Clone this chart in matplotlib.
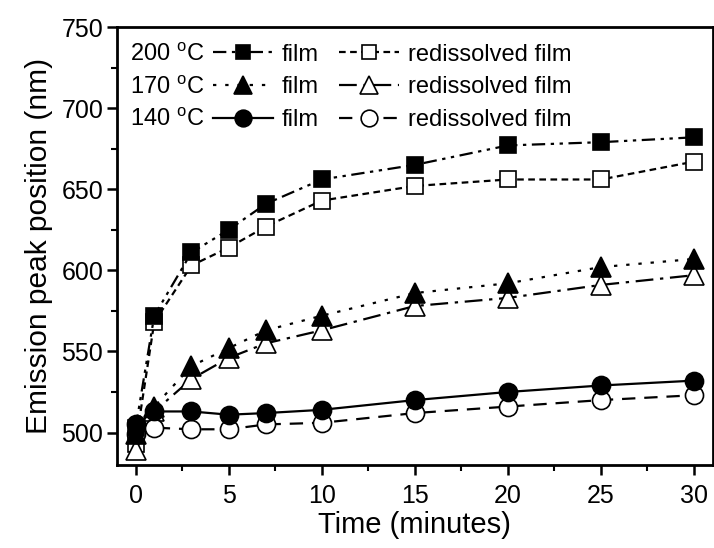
import matplotlib
matplotlib.use("Agg")
import matplotlib.pyplot as plt
from matplotlib.ticker import MultipleLocator
from matplotlib.lines import Line2D

plt.rcParams['font.family'] = ['Liberation Sans', 'DejaVu Sans']
plt.rcParams['mathtext.fontset'] = 'custom'
plt.rcParams['mathtext.rm'] = 'Liberation Sans'

time = [0, 1, 3, 5, 7, 10, 15, 20, 25, 30]
film_200 = [503, 572, 611, 625, 641, 656, 665, 677, 679, 682]
redis_200 = [493, 568, 603, 614, 627, 643, 652, 656, 656, 667]
film_170 = [499, 516, 541, 552, 563, 572, 586, 592, 602, 607]
redis_170 = [489, 513, 533, 546, 555, 563, 578, 583, 591, 597]
film_140 = [505, 513, 513, 511, 512, 514, 520, 525, 529, 532]
redis_140 = [499, 503, 502, 502, 505, 506, 512, 516, 520, 523]

temps = ['200', '170', '140']

fig = plt.figure(figsize=(7.14, 5.48), dpi=100)
ax = fig.add_axes([0.1639, 0.1515, 0.998 - 0.1639, 0.9507 - 0.1515])

lw = 1.6
series = [
    (film_200, 's', 'k', (0, (6, 2.5, 1.5, 2.5, 1.5, 2.5))),
    (redis_200, 's', 'w', (0, (3, 2))),
    (film_170, '^', 'k', (0, (1.5, 4))),
    (redis_170, '^', 'w', (0, (8, 3, 1.5, 3))),
    (film_140, 'o', 'k', '-'),
    (redis_140, 'o', 'w', (0, (6, 4))),
]
handles = []
for vals, mk, fc, ls in series:
    ms = {'s': 11.5, '^': 14, 'o': 13}[mk]
    ax.plot(time, vals, color='k', lw=lw, linestyle=ls, marker=mk,
            markersize=ms, markerfacecolor=fc, markeredgecolor='k',
            markeredgewidth=1.2, zorder=3 if fc == 'w' else 4)
    handles.append(Line2D([], [], color='k', lw=lw, linestyle=ls, marker=mk,
                          markersize=ms - 1, markerfacecolor=fc,
                          markeredgecolor='k', markeredgewidth=1.2))

ax.set_xlim(-1, 31)
ax.set_ylim(480, 750)
ax.xaxis.set_major_locator(MultipleLocator(5))
ax.xaxis.set_minor_locator(MultipleLocator(2.5))
ax.yaxis.set_major_locator(MultipleLocator(50))
ax.yaxis.set_minor_locator(MultipleLocator(25))
ax.tick_params(axis='both', which='major', direction='out', length=7,
               width=1.8, labelsize=18, pad=3)
ax.tick_params(axis='x', which='major', pad=7)
ax.tick_params(axis='both', which='minor', direction='out', length=4,
               width=1.5)
for s in ax.spines.values():
    s.set_linewidth(2)

ax.set_xlabel('Time (minutes)', fontsize=21, labelpad=2)
ax.set_ylabel('Emission peak position (nm)', fontsize=21.5, labelpad=6)

# legend: film column, redissolved column; temperature labels as text
order = [0, 2, 4, 1, 3, 5]
labels = ['film', 'film', 'film', 'redissolved film', 'redissolved film',
          'redissolved film']
leg = ax.legend([handles[i] for i in order], labels, ncol=2,
                loc='upper left', bbox_to_anchor=(0.161, 0.962),
                frameon=False, fontsize=17, handlelength=2.55,
                handletextpad=0.38, columnspacing=0.85, labelspacing=0.45,
                borderaxespad=0, borderpad=0)
fig.canvas.draw()
for i, t in enumerate(temps):
    txt = leg.get_texts()[i]
    bb = txt.get_window_extent()
    yc = (bb.y0 + bb.y1) / 2
    xa, ya = ax.transAxes.inverted().transform((0, yc))
    ax.text(0.022, ya, t + r' $^{\mathrm{o}}$C', transform=ax.transAxes,
            fontsize=17, va='center', ha='left')

fig.savefig('out.png', dpi=100)
